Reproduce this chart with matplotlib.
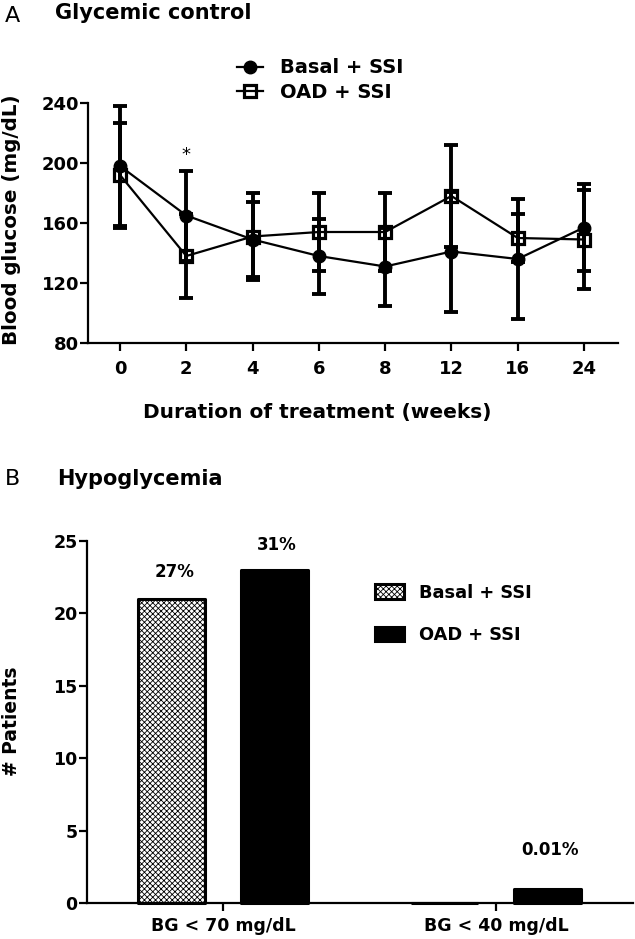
import matplotlib
matplotlib.use("Agg")
import matplotlib.pyplot as plt
import numpy as np

plt.rcParams['font.family'] = ['DejaVu Sans']
plt.rcParams['hatch.linewidth'] = 0.6

# ---------------- Panel A data ----------------
weeks = ["0", "2", "4", "6", "8", "12", "16", "24"]
basal_mean = [198, 165, 149, 138, 131, 141, 136, 157]
basal_sd = [40, 30, 25, 25, 26, 40, 40, 29]
oad_mean = [192, 138, 151, 154, 154, 178, 150, 149]
oad_sd = [35, 28, 29, 26, 26, 34, 16, 33]
series_labels = ["Basal + SSI", "OAD + SSI"]
sig_weeks = ["2"]
a_yticks = [80, 120, 160, 200, 240]

# ---------------- Panel B data ----------------
hypo_categories = ["BG < 70 mg/dL", "BG < 40 mg/dL"]
basal_counts = [21, 0]
oad_counts = [23, 1]
basal_pct = ["27%", ""]
oad_pct = ["31%", "0.01%"]
b_yticks = [0, 5, 10, 15, 20, 25]

W, H = 635, 939
fig = plt.figure(figsize=(W / 100, H / 100), dpi=100)


def fx(p):
    return p / W


def fy(p):
    return 1 - p / H


def style_axes(ax, fs, xpad, ypad):
    for s in ['top', 'right']:
        ax.spines[s].set_visible(False)
    for s in ['left', 'bottom']:
        ax.spines[s].set_linewidth(1.6)
    ax.tick_params(axis='both', direction='out', length=5.5, width=1.6,
                   labelsize=fs, colors='black')
    ax.tick_params(axis='x', pad=xpad)
    ax.tick_params(axis='y', pad=ypad)
    for lab in ax.get_xticklabels() + ax.get_yticklabels():
        lab.set_fontweight('bold')


# ================= Panel A =================
axA = fig.add_axes([fx(88), fy(343), fx(618) - fx(88), fy(103) - fy(343)])
x = np.arange(len(weeks))
axA.errorbar(x, basal_mean, yerr=basal_sd, fmt='none', ecolor='black',
             elinewidth=2.8, capsize=4.7, capthick=2.8, zorder=2)
axA.errorbar(x, oad_mean, yerr=oad_sd, fmt='none', ecolor='black',
             elinewidth=2.8, capsize=4.7, capthick=2.8, zorder=2)
lb, = axA.plot(x, basal_mean, color='black', lw=1.6, marker='o', ms=9,
               mfc='black', mec='black', zorder=3)
lo, = axA.plot(x, oad_mean, color='black', lw=1.6, marker='s', ms=8.5,
               mfc='none', mec='black', mew=2.3, zorder=4)
axA.set_xlim(-0.483, 7.513)
axA.set_ylim(a_yticks[0], a_yticks[-1])
axA.set_yticks(a_yticks)
axA.set_xticks(x)
axA.set_xticklabels(weeks)
style_axes(axA, 13, 7, 1)

for w in sig_weeks:
    i = weeks.index(w)
    axA.annotate("*", xy=(i, basal_mean[i] + basal_sd[i]), xytext=(0, 7.5),
                 textcoords='offset points', ha='center', va='baseline',
                 fontsize=13, fontweight='normal')

legA = axA.legend([lb, lo], series_labels, loc='center left',
                  bbox_to_anchor=(fx(237), fy(80)),
                  bbox_transform=fig.transFigure, frameon=False,
                  prop={'weight': 'bold', 'size': 14},
                  handlelength=26 / 19.44, handletextpad=17 / 19.44,
                  labelspacing=0.27, borderpad=0, borderaxespad=0,
                  numpoints=1)

fig.text(fx(5), fy(21.7), "A", fontsize=16, ha='left', va='baseline')
fig.text(fx(55), fy(19.3), "Glycemic control", fontsize=15,
         fontweight='bold', ha='left', va='baseline')
fig.text(fx(12), fy(220), "Blood glucose (mg/dL)", rotation=90,
         ha='center', va='center', fontsize=14.3, fontweight='bold')
fig.text(fx(317), fy(418), "Duration of treatment (weeks)", ha='center',
         va='baseline', fontsize=14.5, fontweight='bold')

# ================= Panel B =================
axB = fig.add_axes([fx(87), fy(903), fx(633) - fx(87), fy(540.7) - fy(903)])
xc = np.arange(len(hypo_categories))
bw = 0.245
off = 0.188
bb = axB.bar(xc - off, basal_counts, bw, color='white', edgecolor='black',
             hatch='xxxxxx', linewidth=2.2, zorder=2, clip_on=False)
bo = axB.bar(xc + off, oad_counts, bw, color='black', edgecolor='black',
             linewidth=2.2, zorder=2, clip_on=False)
for p in list(bb) + list(bo):
    p.set_joinstyle('round')
axB.set_xlim(-0.498, 1.502)
axB.set_ylim(b_yticks[0], b_yticks[-1])
axB.set_yticks(b_yticks)
axB.set_xticks(xc)
axB.set_xticklabels(hypo_categories)
style_axes(axB, 12.5, 4.6, 1.2)

label_offsets_b = [19.3, 0]
label_offsets_o = [17.6, 27.7]
for i in range(len(hypo_categories)):
    if basal_pct[i]:
        axB.annotate(basal_pct[i], xy=(xc[i] - off, basal_counts[i]),
                     xytext=(2, label_offsets_b[i]), textcoords='offset points',
                     ha='center', va='center', fontsize=12, fontweight='bold')
    if oad_pct[i]:
        axB.annotate(oad_pct[i], xy=(xc[i] + off, oad_counts[i]),
                     xytext=(2, label_offsets_o[i]), textcoords='offset points',
                     ha='center', va='center', fontsize=12, fontweight='bold')

legB = axB.legend([bb, bo], series_labels, loc='center left',
                  bbox_to_anchor=(fx(375), fy(614)),
                  bbox_transform=fig.transFigure, frameon=False,
                  prop={'weight': 'bold', 'size': 12.8},
                  handlelength=29 / 17.8, handleheight=15 / 17.8,
                  handletextpad=15 / 17.8, labelspacing=1.39,
                  borderpad=0, borderaxespad=0)

fig.text(fx(5), fy(485), "B", fontsize=16, ha='left', va='baseline')
fig.text(fx(57), fy(485), "Hypoglycemia", fontsize=15, fontweight='bold',
         ha='left', va='baseline')
fig.text(fx(12), fy(721.5), "# Patients", rotation=90, ha='center',
         va='center', fontsize=13.5, fontweight='bold')

fig.savefig("out.png", dpi=100)
